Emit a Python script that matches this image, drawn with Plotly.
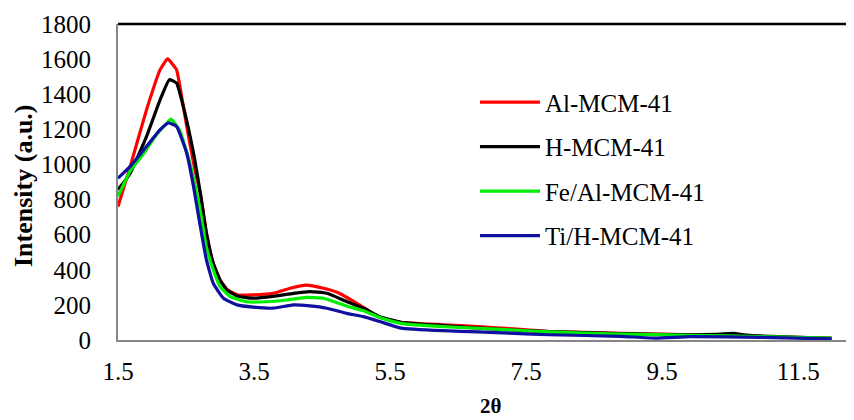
import plotly.graph_objects as go

# ---- data ----
x_al = [1.5, 1.68, 1.92, 2.12, 2.23, 2.36, 2.41, 2.51, 2.63, 2.71, 2.80, 2.90, 3.00, 3.10, 3.25, 3.49, 3.78, 4.03, 4.27, 4.52, 4.72, 5.03, 5.34, 5.66, 6.28, 6.8, 7.32, 7.84, 8.36, 8.88, 9.4, 9.92, 10.43, 10.95, 11.47, 11.99]
y_al = [760, 989, 1312, 1540, 1601, 1540, 1445, 1217, 970, 837, 609, 437, 342, 290, 257, 257, 266, 295, 313, 295, 272, 205, 129, 101, 87, 76, 63, 48, 44, 38, 34, 30, 28, 19, 15, 11]

x_h = [1.5, 1.68, 1.92, 2.12, 2.255, 2.36, 2.46, 2.61, 2.71, 2.80, 2.90, 3.0, 3.1, 3.25, 3.49, 3.78, 4.08, 4.32, 4.57, 4.86, 5.11, 5.35, 5.66, 6.28, 6.8, 7.32, 7.84, 8.88, 9.92, 10.3, 10.54, 10.75, 10.95, 11.5, 11.99]
y_h = [856, 950, 1160, 1369, 1483, 1464, 1331, 1065, 837, 609, 437, 342, 285, 251, 238, 248, 266, 276, 266, 219, 181, 133, 101, 82, 68, 57, 48, 36, 30, 32, 38, 28, 23, 15, 10]

x_fe = [1.5, 1.68, 1.87, 2.07, 2.22, 2.28, 2.41, 2.56, 2.71, 2.80, 2.90, 3.0, 3.15, 3.39, 3.69, 3.98, 4.27, 4.52, 4.86, 5.11, 5.35, 5.66, 6.28, 6.8, 7.32, 7.84, 8.88, 9.92, 10.95, 11.99]
y_fe = [818, 963, 1058, 1172, 1236, 1258, 1191, 1001, 735, 528, 400, 304, 247, 218, 218, 228, 243, 238, 194, 166, 128, 95, 76, 67, 57, 46, 34, 27, 19, 11]

x_ti = [1.5, 1.68, 1.92, 2.12, 2.24, 2.36, 2.51, 2.61, 2.71, 2.80, 2.90, 3.05, 3.25, 3.49, 3.78, 4.08, 4.32, 4.57, 4.86, 5.11, 5.35, 5.66, 6.28, 6.8, 7.32, 7.84, 8.88, 9.4, 9.92, 10.95, 11.99]
y_ti = [922, 989, 1103, 1198, 1236, 1217, 1065, 875, 647, 456, 323, 238, 200, 187, 181, 200, 194, 181, 152, 133, 105, 68, 53, 46, 38, 30, 21, 11, 19, 15, 6]

series_names = ["Al-MCM-41", "H-MCM-41", "Fe/Al-MCM-41", "Ti/H-MCM-41"]
series_x = [x_al, x_h, x_fe, x_ti]
series_y = [y_al, y_h, y_fe, y_ti]
colors = ["#ff0000", "#000000", "#00ee00", "#1010a0"]

x_ticks = [1.5, 3.5, 5.5, 7.5, 9.5, 11.5]
y_ticks = [0, 200, 400, 600, 800, 1000, 1200, 1400, 1600, 1800]

FONT = "Liberation Serif"

# page body has an 8px margin, so the figure is sized/offset to compensate
fig = go.Figure()
for i, (nm, xs, ys, c) in enumerate(zip(series_names, series_x, series_y, colors)):
    fig.add_trace(go.Scatter(
        x=xs, y=ys, mode="lines", name=nm, legendgroup=str(i),
        line=dict(color=c, width=3.2, shape="spline", smoothing=0.4),
    ))

fig.update_layout(
    width=846, height=412,
    margin=dict(l=110, r=0, t=16, b=80, autoexpand=False),
    paper_bgcolor="white", plot_bgcolor="white",
    font=dict(family=FONT, size=25, color="black"),
    showlegend=True,
    legend=dict(
        x=0.485, y=0.825, xanchor="left", yanchor="top",
        font=dict(family=FONT, size=25, color="black"),
        tracegroupgap=9, itemwidth=60,
        bgcolor="rgba(0,0,0,0)",
    ),
    xaxis=dict(
        range=[1.5, 12.32], tickvals=x_ticks, ticktext=[str(v) for v in x_ticks],
        showgrid=False, zeroline=False, showline=True, linecolor="#868686", linewidth=2,
        ticks="outside", ticklen=8, tickcolor="rgba(0,0,0,0)",
        tickfont=dict(family=FONT, size=25), automargin=False,
    ),
    yaxis=dict(
        range=[0, 1800], tickvals=y_ticks,
        showgrid=False, zeroline=False, showline=True, linecolor="#868686", linewidth=2,
        ticks="outside", ticklen=20, tickcolor="rgba(0,0,0,0)",
        tickfont=dict(family=FONT, size=25), automargin=False,
    ),
    shapes=[dict(type="line", xref="paper", yref="paper", x0=0, x1=1, y0=1, y1=1,
                 line=dict(color="black", width=2.5))],
    annotations=[
        dict(text="<b>2θ</b>", xref="paper", yref="paper", x=(491 - 118) / 736, y=-(406 - 340) / 316,
             xanchor="center", yanchor="middle", showarrow=False, font=dict(family=FONT, size=21)),
        dict(text="<b>Intensity (a.u.)</b>", xref="paper", yref="paper", x=-(118 - 23) / 736, y=(340 - 186) / 316,
             xanchor="center", yanchor="middle", showarrow=False, textangle=-90, font=dict(family=FONT, size=26)),
    ],
)

fig.write_html("out.html")
